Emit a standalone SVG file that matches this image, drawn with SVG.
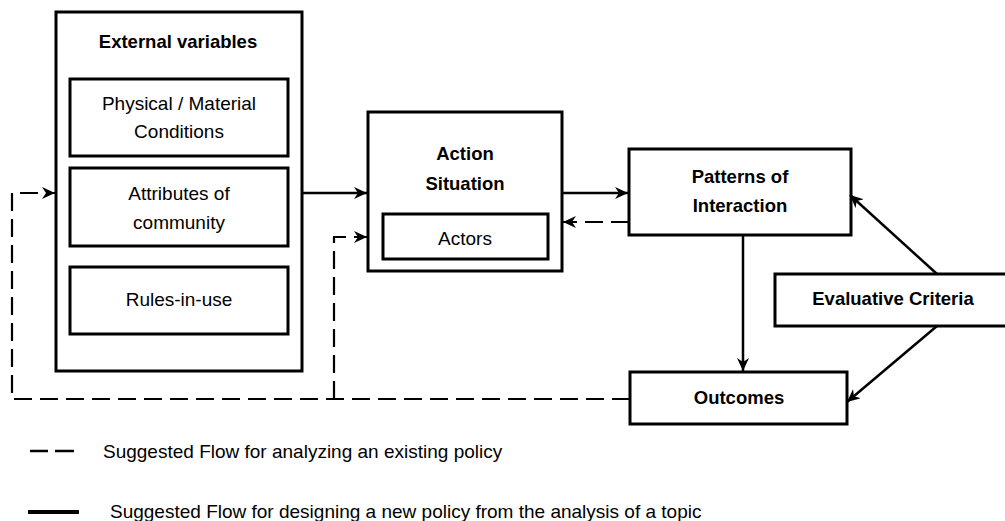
<svg xmlns="http://www.w3.org/2000/svg" width="1005" height="521" viewBox="0 0 1005 521">
<style>
.box{fill:#fff;stroke:#000;stroke-width:3}
.t{font-family:"Liberation Sans",Arial,sans-serif;font-size:19px;fill:#000;text-anchor:middle}
.b{font-family:"Liberation Sans",Arial,sans-serif;font-size:18.5px;font-weight:bold;fill:#000;text-anchor:middle}
.lg{font-family:"Liberation Sans",Arial,sans-serif;font-size:19px;fill:#000}
.solid{fill:none;stroke:#000;stroke-width:2.5}
.dash{fill:none;stroke:#000;stroke-width:2.2;stroke-dasharray:18 8}
</style>
<defs>
<marker id="arr" markerUnits="userSpaceOnUse" markerWidth="14" markerHeight="12" viewBox="0 0 14 12" refX="13" refY="6" orient="auto">
<path d="M0,0 L13,6 L0,12 L4,6 z" fill="#000"/>
</marker>
</defs>
<g id="external-variables">
<rect class="box" x="56" y="12" width="246" height="359"/>
<text class="b" x="178" y="48">External variables</text>
</g>
<g id="physical-material">
<rect class="box" x="70" y="79" width="218" height="77"/>
<text class="t" x="179" y="110">Physical / Material</text>
<text class="t" x="179" y="138">Conditions</text>
</g>
<g id="attributes-community">
<rect class="box" x="70" y="168" width="218" height="78"/>
<text class="t" x="179" y="200">Attributes of</text>
<text class="t" x="179" y="229">community</text>
</g>
<g id="rules-in-use">
<rect class="box" x="70" y="267" width="218" height="67"/>
<text class="t" x="179" y="306">Rules-in-use</text>
</g>
<g id="action-situation">
<rect class="box" x="368" y="112" width="194" height="159"/>
<text class="b" x="465" y="160">Action</text>
<text class="b" x="465" y="190">Situation</text>
</g>
<g id="actors">
<rect class="box" x="383" y="214" width="165" height="45"/>
<text class="t" x="465" y="245">Actors</text>
</g>
<g id="patterns-of-interaction">
<rect class="box" x="629" y="149" width="222" height="86"/>
<text class="b" x="740" y="183">Patterns of</text>
<text class="b" x="740" y="212">Interaction</text>
</g>
<g id="evaluative-criteria">
<rect class="box" x="775" y="274" width="240" height="52"/>
<text class="b" x="893" y="305">Evaluative Criteria</text>
</g>
<g id="outcomes">
<rect class="box" x="630" y="372" width="217" height="52"/>
<text class="b" x="739" y="404">Outcomes</text>
</g>
<g id="connectors">
<line class="solid" x1="302" y1="193" x2="367" y2="193" marker-end="url(#arr)"/>
<line class="solid" x1="562" y1="193" x2="628" y2="193" marker-end="url(#arr)"/>
<line class="solid" x1="743" y1="235" x2="743" y2="371" marker-end="url(#arr)"/>
<line class="solid" x1="937" y1="274" x2="850" y2="195" marker-end="url(#arr)"/>
<line class="solid" x1="937" y1="326" x2="847" y2="402" marker-end="url(#arr)"/>
<line class="dash" x1="629" y1="222" x2="563" y2="222" marker-end="url(#arr)"/>
<path class="dash" d="M630,399 L12,399 L12,193 L55,193" marker-end="url(#arr)"/>
<path class="dash" d="M334,399 L334,237 L367,237" marker-end="url(#arr)"/>
</g>
<g id="legend">
<line x1="30" y1="451" x2="48" y2="451" stroke="#000" stroke-width="2.5"/>
<line x1="55" y1="451" x2="74" y2="451" stroke="#000" stroke-width="2.5"/>
<text class="lg" x="103" y="458">Suggested Flow for analyzing an existing policy</text>
<line x1="28" y1="512" x2="79" y2="512" stroke="#000" stroke-width="4"/>
<text class="lg" x="110" y="518">Suggested Flow for designing a new policy from the analysis of a topic</text>
</g>
</svg>
